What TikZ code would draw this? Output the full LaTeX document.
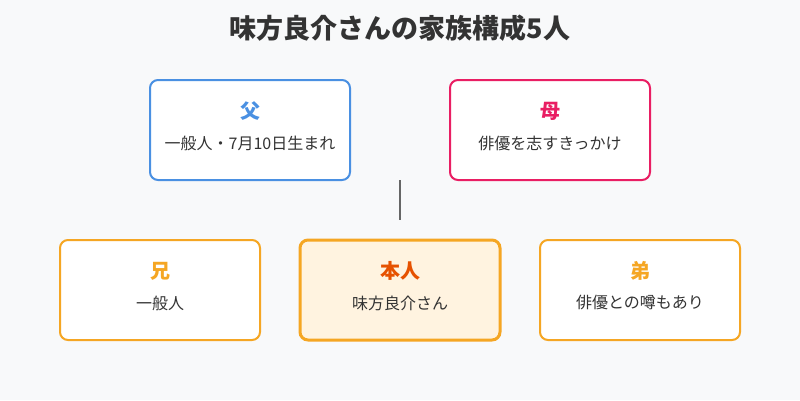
\documentclass[tikz,border=0pt]{standalone}
\usepackage{fontspec}
\setmainfont{Noto Sans CJK JP}
\definecolor{bgc}{HTML}{F8F9FA}
\definecolor{fatherc}{HTML}{4A90E2}
\definecolor{motherc}{HTML}{E91E63}
\definecolor{sibc}{HTML}{F5A623}
\definecolor{selfc}{HTML}{E65100}
\definecolor{selffill}{HTML}{FFF3E0}
\definecolor{txtc}{HTML}{333333}
\definecolor{linec}{HTML}{666666}
\tikzset{
  px/.style={x=1pt,y=-1pt},
  member/.style={draw=#1, line width=2pt, rounded corners=8pt, fill=white,
    minimum width=200pt, minimum height=100pt, inner sep=0pt},
  rolelabel/.style={text=#1, font=\fontsize{20}{22}\selectfont\bfseries, inner sep=0pt},
  desc/.style={text=txtc, font=\fontsize{16}{18}\selectfont, inner sep=0pt},
}
\begin{document}
\begin{tikzpicture}[px]
\fill[bgc] (0,0) rectangle (800,400);
\useasboundingbox (0,0) rectangle (800,400);
\node[text=txtc, font=\fontsize{27}{30}\selectfont\bfseries, inner sep=0pt] (title) at (400,28) {味方良介さんの家族構成5人};
% parents
\node[member=fatherc] (father) at (250,130) {};
\node[rolelabel=fatherc] (fatherl) at (250,111) {父};
\node[desc] (fatherd) at (250,143) {一般人・7月10日生まれ};
\node[member=motherc] (mother) at (550,130) {};
\node[rolelabel=motherc] (motherl) at (550,111) {母};
\node[desc] (motherd) at (550,143) {俳優を志すきっかけ};
% connector
\coordinate (pmid) at (400,180);
\coordinate (cmid) at (400,220);
\draw[linec, line width=1.5pt] (pmid) -- (cmid);
% children
\node[member=sibc] (brother) at (160,290) {};
\node[rolelabel=sibc] (brotherl) at (160,271) {兄};
\node[desc] (brotherd) at (160,303) {一般人};
\node[member=sibc, line width=3pt, fill=selffill] (self) at (400,290) {};
\node[rolelabel=selfc] (selfl) at (400,271) {本人};
\node[desc] (selfd) at (400,303) {味方良介さん};
\node[member=sibc] (younger) at (640,290) {};
\node[rolelabel=sibc] (youngerl) at (640,271) {弟};
\node[desc] (youngerd) at (640,303) {俳優との噂もあり};
\end{tikzpicture}
\end{document}
